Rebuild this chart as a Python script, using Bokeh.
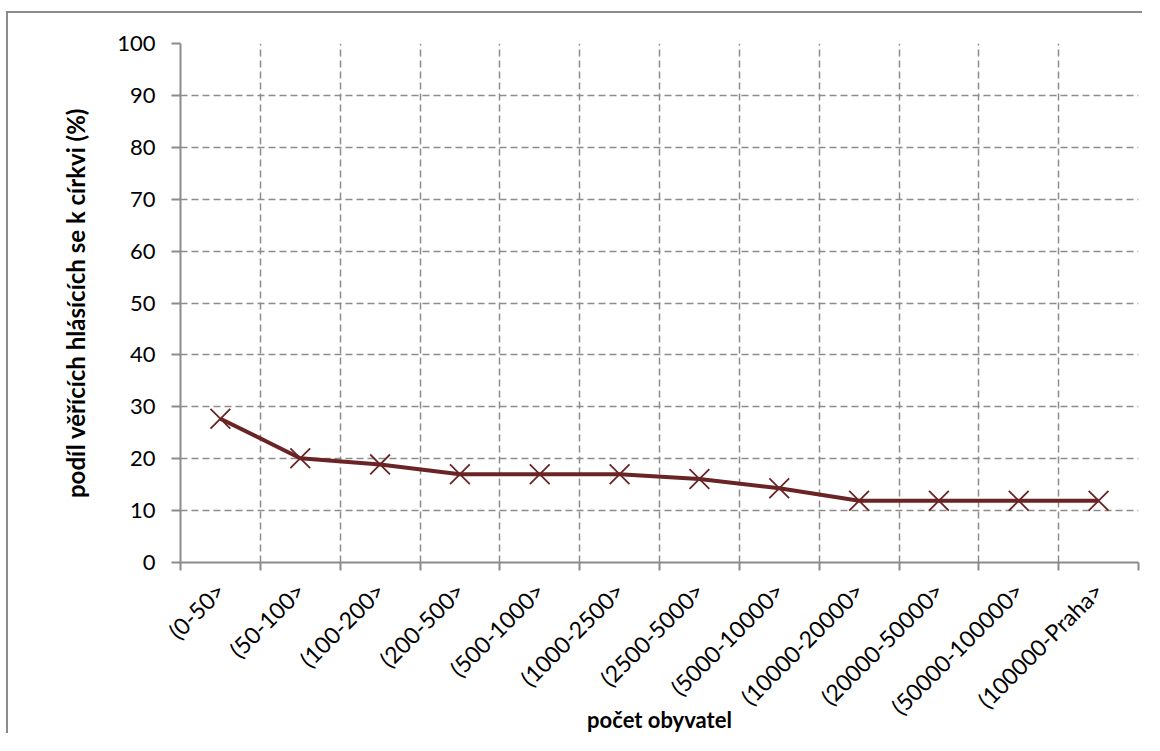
from math import pi
from bokeh.plotting import figure
from bokeh.models import FixedTicker, LinearAxis, Range1d, ColumnDataSource
from bokeh.embed import file_html
from bokeh.resources import INLINE

categories = ["(0-50>", "(50-100>", "(100-200>", "(200-500>", "(500-1000>",
              "(1000-2500>", "(2500-5000>", "(5000-10000>", "(10000-20000>",
              "(20000-50000>", "(50000-100000>", "(100000-Praha>"]
share = [27.7, 20.1, 18.9, 17.0, 17.0, 17.0, 16.1, 14.3, 11.9, 11.9, 11.9, 11.9]
y_ticks = list(range(0, 101, 10))
x_title = "počet obyvatel"
y_title = "podíl věřících hlásících se k církvi (%)"

FONT = "Lato"
GRID = "#8c8c8c"
LINE = "#6b2425"

n = len(categories)
xs = [i + 0.5 for i in range(n)]
bounds = list(range(n + 1))
src = ColumnDataSource(dict(x=xs, y=share, cat=categories))

p = figure(width=1136, height=722, output_backend="svg", toolbar_location=None,
           x_range=Range1d(0, n), y_range=Range1d(0, 100),
           min_border_left=172, min_border_right=6, min_border_top=30,
           min_border_bottom=168, background_fill_color="white",
           border_fill_color="white")
p.outline_line_color = None
p.styles = {"margin-left": "6px", "margin-top": "11px",
            "border-left": "2px solid #8c8c8c", "border-top": "2px solid #8c8c8c"}

# axes
p.xaxis.ticker = FixedTicker(ticks=xs, minor_ticks=bounds)
p.xaxis.major_label_overrides = {x: c for x, c in zip(xs, categories)}
p.xaxis.major_label_orientation = pi / 4
p.xaxis.major_tick_out = 0
p.xaxis.major_tick_in = 0
p.xaxis.minor_tick_out = 8
p.xaxis.minor_tick_in = 0
p.xaxis.minor_tick_line_color = GRID
p.xaxis.minor_tick_line_width = 2
p.xaxis.major_label_standoff = 16
p.xaxis.major_label_text_font = FONT
p.xaxis.major_label_text_font_size = "23px"
p.xaxis.major_label_text_color = "#000000"

p.yaxis.ticker = FixedTicker(ticks=y_ticks, minor_ticks=[])
p.yaxis.major_tick_out = 9
p.yaxis.major_tick_in = 0
p.yaxis.major_tick_line_color = GRID
p.yaxis.major_tick_line_width = 2
p.yaxis.major_label_standoff = 16
p.yaxis.major_label_text_font = FONT
p.yaxis.major_label_text_font_size = "22px"
p.yaxis.major_label_text_color = "#000000"
p.yaxis.axis_label = y_title
p.yaxis.axis_label_text_font = FONT
p.yaxis.axis_label_text_font_style = "bold"
p.yaxis.axis_label_text_font_size = "24px"
p.yaxis.axis_label_text_color = "#000000"
p.yaxis.axis_label_standoff = 24

for ax in (p.xaxis, p.yaxis):
    ax.axis_line_color = GRID
    ax.axis_line_width = 2

# grids
p.xgrid.ticker = FixedTicker(ticks=bounds)
for g in (p.xgrid, p.ygrid):
    g.grid_line_color = GRID
    g.grid_line_width = 1.5
    g.grid_line_dash = "7 4"

# data
p.line("x", "y", source=src, line_color=LINE, line_width=4)
p.scatter("x", "y", source=src, marker="x", size=28, line_color=LINE, line_width=1.8)

# x-axis title: a label-only axis whose span is offset to the left like the original
title_axis = LinearAxis(ticker=FixedTicker(ticks=[]), bounds=(0, 10),
                        axis_line_color=None, major_tick_out=0, major_tick_in=0,
                        minor_tick_out=0, minor_tick_in=0, major_label_standoff=0,
                        axis_label=x_title, axis_label_standoff=-27,
                        axis_label_text_font=FONT, axis_label_text_font_style="bold",
                        axis_label_text_font_size="22px",
                        axis_label_text_color="#000000")
p.add_layout(title_axis, "below")

open("out.html", "w").write(file_html(p, INLINE))
